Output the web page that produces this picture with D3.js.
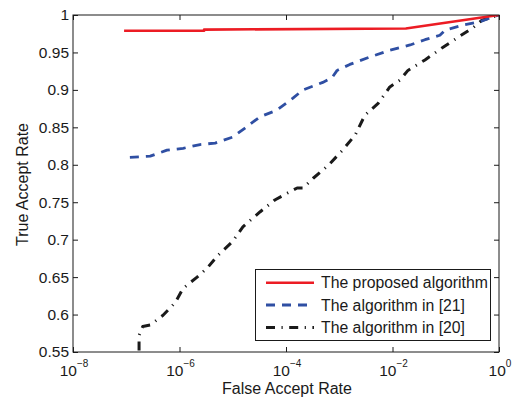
<!DOCTYPE html>
<html><head><meta charset="utf-8">
<script src="https://cdn.jsdelivr.net/npm/d3@7"></script>
<style>
body{margin:0;background:#fff}
svg{display:block}
text{font-family:"Liberation Sans",Arial,Helvetica,sans-serif;fill:#1a1a1a}
</style>
</head><body>
<svg id="c" width="520" height="400"></svg>
<script>
// ---- data ----
const seriesNames = ["The proposed algorithm", "The algorithm in [21]", "The algorithm in [20]"];

const proposedFAR = [9.1e-8, 2.9e-6, 2.9e-6, 1.78e-2, 1];
const proposedTAR = [0.979, 0.979, 0.9805, 0.982, 1.0];

const ref21FAR = [1.17e-7, 2.82e-7, 5.82e-7, 1.17e-6, 2.43e-6, 4.68e-6, 1e-5, 1.70e-5, 3.24e-5, 6.76e-5,
  1.35e-4, 2.09e-4, 4.90e-4, 7.24e-4, 9.12e-4, 1.58e-3, 3.80e-3, 8.91e-3, 2.14e-2, 4.07e-2,
  7.76e-2, 9.77e-2, 0.229, 0.437, 0.676, 1];
const ref21TAR = [0.810, 0.8115, 0.8195, 0.822, 0.827, 0.829, 0.837, 0.849, 0.864, 0.873,
  0.889, 0.900, 0.910, 0.916, 0.926, 0.934, 0.944, 0.953, 0.960, 0.967,
  0.973, 0.980, 0.987, 0.991, 0.996, 1.0];

const ref20FAR = [1.74e-7, 1.74e-7, 2.04e-7, 2.82e-7, 4.90e-7, 8.32e-7, 1.17e-6, 2.14e-6, 3.31e-6, 5.25e-6,
  9.77e-6, 1.55e-5, 3.24e-5, 6.17e-5, 1.05e-4, 1.62e-4, 2.09e-4, 3.24e-4, 6.17e-4, 1.17e-3,
  2.0e-3, 3.02e-3, 5.37e-3, 8.91e-3, 1.38e-2, 1.95e-2, 4.07e-2, 8.91e-2, 0.186, 0.324, 0.479, 1];
const ref20TAR = [0.552, 0.572, 0.584, 0.586, 0.599, 0.616, 0.635, 0.650, 0.662, 0.679,
  0.697, 0.717, 0.737, 0.753, 0.762, 0.769, 0.769, 0.782, 0.799, 0.820,
  0.840, 0.866, 0.882, 0.904, 0.913, 0.926, 0.940, 0.957, 0.972, 0.983, 0.993, 1.0];

const xTickValues = [1e-8, 1e-6, 1e-4, 1e-2, 1];
const xTickExps = ["\u22128", "\u22126", "\u22124", "\u22122", "0"];
const yTickValues = [0.55, 0.6, 0.65, 0.7, 0.75, 0.8, 0.85, 0.9, 0.95, 1];
const yTickLabels = ["0.55", "0.6", "0.65", "0.7", "0.75", "0.8", "0.85", "0.9", "0.95", "1"];

const xLabel = "False Accept Rate";
const yLabel = "True Accept Rate";

// ---- layout ----
const L = 73, R = 499, T = 15, B = 352;
const svg = d3.select("#c");
const x = d3.scaleLog().domain([1e-8, 1]).range([L, R]);
const y = d3.scaleLinear().domain([0.55, 1]).range([B, T]);

svg.append("defs").append("clipPath").attr("id", "clip")
  .append("rect").attr("x", L).attr("y", T).attr("width", R - L).attr("height", B - T);

function styleAxis(g) {
  g.select(".domain").remove();
  g.selectAll(".tick line").attr("stroke", "#1a1a1a").attr("stroke-width", 1);
  g.selectAll("text").attr("font-size", 15.5).attr("fill", "#1a1a1a").attr("font-family", null);
}
svg.append("g").attr("transform", `translate(0,${B})`)
  .call(d3.axisBottom(x).tickValues(xTickValues).tickSize(-5).tickFormat(""))
  .call(styleAxis);
svg.append("g").attr("transform", `translate(0,${T})`)
  .call(d3.axisTop(x).tickValues(xTickValues).tickSize(-5).tickFormat(""))
  .call(styleAxis);
svg.append("g").attr("transform", `translate(${L},0)`)
  .call(d3.axisLeft(y).tickValues(yTickValues).tickSize(-5).tickPadding(4)
    .tickFormat((d, i) => yTickLabels[i]))
  .call(styleAxis);
svg.append("g").attr("transform", `translate(${R},0)`)
  .call(d3.axisRight(y).tickValues(yTickValues).tickSize(-5).tickFormat(""))
  .call(styleAxis);

// x tick labels with superscripts
const xl = svg.append("g").selectAll("text").data(xTickValues).join("text")
  .attr("x", d => x(d) + 1).attr("y", 376).attr("text-anchor", "middle").attr("font-size", 15.5);
xl.append("tspan").text("10");
xl.append("tspan").attr("dy", -9.5).attr("font-size", 10).text((d, i) => xTickExps[i]);

// lines
const line = d3.line().x(d => x(d[0])).y(d => y(d[1]));
const plot = svg.append("g").attr("clip-path", "url(#clip)");
const styles = [
  {color: "#ec1c24", width: 2.6, dash: null},
  {color: "#2f4fa3", width: 2.8, dash: "9,7"},
  {color: "#1a1a1a", width: 3, dash: "9,6.5,1.2,6.5"}
];
const series = [
  d3.zip(ref20FAR, ref20TAR),
  d3.zip(ref21FAR, ref21TAR),
  d3.zip(proposedFAR, proposedTAR)
];
const seriesStyle = [styles[2], styles[1], styles[0]];
series.forEach((s, i) => {
  const st = seriesStyle[i];
  plot.append("path").datum(s).attr("d", line)
    .attr("fill", "none").attr("stroke", st.color).attr("stroke-width", st.width)
    .attr("stroke-dasharray", st.dash).attr("stroke-linejoin", "round");
});

// frame
svg.append("rect").attr("x", L).attr("y", T).attr("width", R - L).attr("height", B - T)
  .attr("fill", "none").attr("stroke", "#1a1a1a").attr("stroke-width", 1);

// axis labels
svg.append("text").attr("x", (L + R) / 2 + 1).attr("y", 394).attr("text-anchor", "middle")
  .attr("font-size", 16).text(xLabel);
svg.append("text").attr("transform", `translate(28,${(T + B) / 2 + 1}) rotate(-90)`)
  .attr("text-anchor", "middle").attr("font-size", 16).text(yLabel);

// legend
const lg = svg.append("g");
lg.append("rect").attr("x", 255.5).attr("y", 269.5).attr("width", 235).attr("height", 71)
  .attr("fill", "#fff").attr("stroke", "#1a1a1a").attr("stroke-width", 1);
const rowsY = [282.7, 305, 327.5];
seriesNames.forEach((n, i) => {
  const st = styles[i];
  lg.append("line").attr("x1", 266).attr("x2", 314).attr("y1", rowsY[i]).attr("y2", rowsY[i])
    .attr("stroke", st.color).attr("stroke-width", st.width).attr("stroke-dasharray", st.dash);
  lg.append("text").attr("x", 321).attr("y", rowsY[i]).attr("dy", "0.36em")
    .attr("font-size", 15.8).text(n);
});
</script>
</body></html>
